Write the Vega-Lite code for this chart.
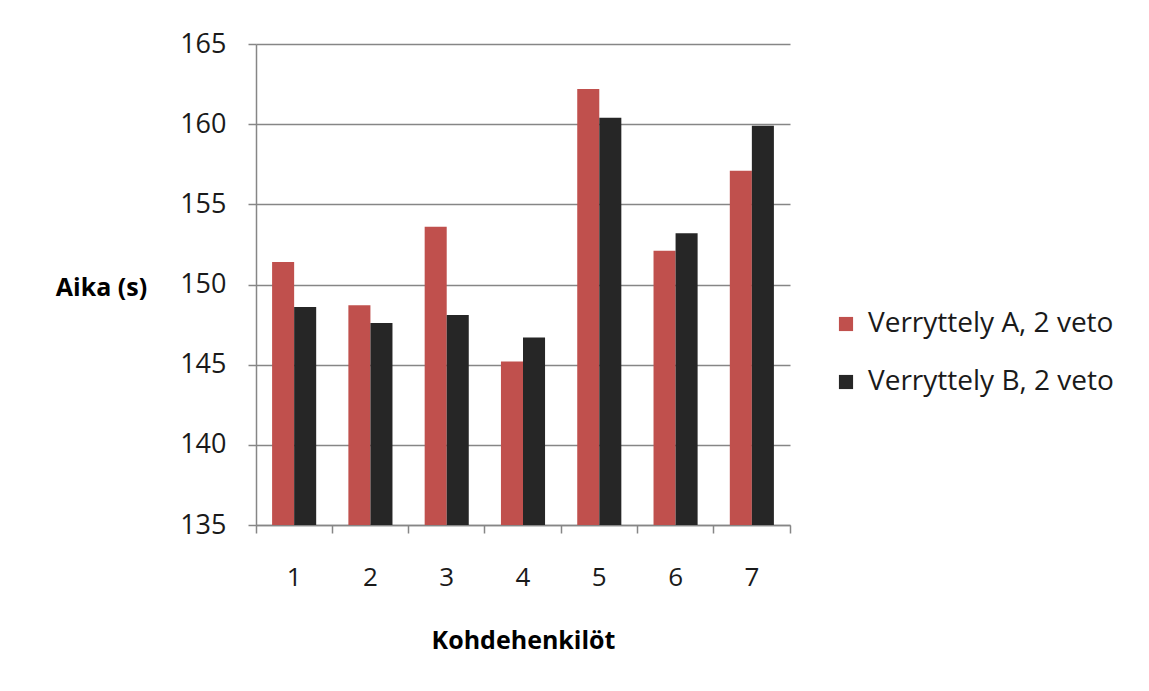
{
  "$schema": "https://vega.github.io/schema/vega-lite/v6.json",
  "autosize": {"type": "none"},
  "width": 534,
  "height": 481,
  "padding": {"left": 256, "top": 44, "right": 359, "bottom": 166},
  "background": "white",
  "data": {
    "values": [
      {"henkilo": "1", "sarja": "Verryttely A, 2 veto", "aika": 151.4},
      {"henkilo": "1", "sarja": "Verryttely B, 2 veto", "aika": 148.6},
      {"henkilo": "2", "sarja": "Verryttely A, 2 veto", "aika": 148.7},
      {"henkilo": "2", "sarja": "Verryttely B, 2 veto", "aika": 147.6},
      {"henkilo": "3", "sarja": "Verryttely A, 2 veto", "aika": 153.6},
      {"henkilo": "3", "sarja": "Verryttely B, 2 veto", "aika": 148.1},
      {"henkilo": "4", "sarja": "Verryttely A, 2 veto", "aika": 145.2},
      {"henkilo": "4", "sarja": "Verryttely B, 2 veto", "aika": 146.7},
      {"henkilo": "5", "sarja": "Verryttely A, 2 veto", "aika": 162.2},
      {"henkilo": "5", "sarja": "Verryttely B, 2 veto", "aika": 160.4},
      {"henkilo": "6", "sarja": "Verryttely A, 2 veto", "aika": 152.1},
      {"henkilo": "6", "sarja": "Verryttely B, 2 veto", "aika": 153.2},
      {"henkilo": "7", "sarja": "Verryttely A, 2 veto", "aika": 157.1},
      {"henkilo": "7", "sarja": "Verryttely B, 2 veto", "aika": 159.9}
    ]
  },
  "mark": {"type": "bar", "clip": true},
  "encoding": {
    "x": {
      "field": "henkilo",
      "type": "nominal",
      "title": "Kohdehenkilöt",
      "scale": {"paddingInner": 0, "paddingOuter": 0},
      "axis": {
        "labelAngle": 0,
        "bandPosition": 1,
        "tickExtra": true,
        "labelFont": "Open Sans",
        "labelFontSize": 26,
        "labelColor": "#1a1a1a",
        "labelPadding": 31,
        "tickSize": 8,
        "tickColor": "#868686",
        "tickWidth": 1.5,
        "domainColor": "#868686",
        "domainWidth": 1.5,
        "titleFont": "Open Sans",
        "titleFontSize": 25,
        "titleFontWeight": "bold",
        "titleColor": "#000000",
        "titlePadding": 38
      }
    },
    "xOffset": {"field": "sarja", "type": "nominal", "scale": {"paddingInner": 0, "paddingOuter": 0.73}},
    "y": {
      "field": "aika",
      "type": "quantitative",
      "title": "Aika (s)",
      "scale": {"domain": [135, 165], "zero": false, "nice": false},
      "axis": {
        "values": [135, 140, 145, 150, 155, 160, 165],
        "labelFont": "Open Sans",
        "labelFontSize": 27,
        "labelColor": "#1a1a1a",
        "labelPadding": 22,
        "tickSize": 8,
        "tickColor": "#868686",
        "tickWidth": 1.5,
        "domainColor": "#868686",
        "domainWidth": 1.5,
        "grid": true,
        "gridColor": "#868686",
        "gridWidth": 1.5,
        "titleFont": "Open Sans",
        "titleFontSize": 25,
        "titleFontWeight": "bold",
        "titleColor": "#000000",
        "titleAngle": 0,
        "titleAlign": "center",
        "titleBaseline": "middle",
        "titleX": -155,
        "titleY": 243
      }
    },
    "color": {
      "field": "sarja",
      "type": "nominal",
      "scale": {"range": ["#C0504D", "#262626"]},
      "legend": {
        "title": null,
        "orient": "none",
        "legendX": 576,
        "legendY": 266,
        "symbolType": "square",
        "symbolSize": 200,
        "symbolStrokeWidth": 0,
        "labelFont": "Open Sans",
        "labelFontSize": 28,
        "labelColor": "#1a1a1a",
        "labelLimit": 400,
        "labelOffset": 8,
        "rowPadding": 30
      }
    }
  },
  "config": {
    "view": {"stroke": null},
    "axisX": {"grid": false}
  }
}
